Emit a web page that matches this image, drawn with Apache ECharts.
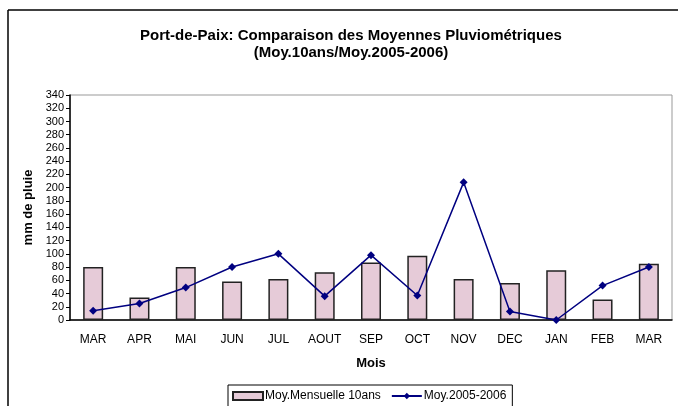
<!DOCTYPE html>
<html>
<head>
<meta charset="utf-8">
<script src="https://cdn.jsdelivr.net/npm/echarts@6/dist/echarts.min.js"></script>
<style>
  html, body { margin: 0; padding: 0; background: #fff; }
  #chart { width: 678px; height: 406px; }
</style>
</head>
<body>
<div id="chart"></div>
<script>
// mois (mars 2005 -> mars 2006)
var months = ['MAR', 'APR', 'MAI', 'JUN', 'JUL', 'AOUT', 'SEP', 'OCT', 'NOV', 'DEC', 'JAN', 'FEB', 'MAR'];
// moyenne mensuelle sur 10 ans
var moy10ans = [80, 34, 80, 58, 62, 72, 87, 97, 62, 56, 75, 31, 85];
// moyenne 2005-2006
var moy2005 = [14, 25, 49, 80, 100, 36, 98, 37, 208, 13, 0, 52, 80];

var font = "'Liberation Sans', Arial, sans-serif";

var chart = echarts.init(document.getElementById('chart'));

var option = {
  animation: false,
  textStyle: { fontFamily: font },
  title: {
    text: 'Port-de-Paix: Comparaison des Moyennes Pluviométriques\n(Moy.10ans/Moy.2005-2006)',
    left: 346,
    textAlign: 'center',
    top: 22,
    textStyle: { fontFamily: font, fontSize: 15, fontWeight: 'bold', color: '#000', lineHeight: 17 }
  },
  legend: {
    left: 228,
    top: 385,
    itemGap: 10,
    itemWidth: 30,
    itemHeight: 8,
    padding: [5, 6, 5, 4],
    borderColor: '#000',
    borderWidth: 1,
    borderRadius: 0,
    textStyle: { fontFamily: font, fontSize: 12, color: '#000', padding: [0, 0, 0, -3] },
    data: [
      { name: 'Moy.Mensuelle 10ans', icon: 'rect' },
      { name: 'Moy.2005-2006' }
    ]
  },
  grid: {
    left: 70,
    right: 6,
    top: 95,
    bottom: 86,
    show: true,
    borderColor: '#999',
    borderWidth: 1
  },
  xAxis: {
    type: 'category',
    data: months,
    name: 'Mois',
    nameLocation: 'middle',
    nameGap: 37,
    nameTextStyle: { fontFamily: font, fontSize: 13, fontWeight: 'bold', color: '#000' },
    axisLine: { lineStyle: { color: '#000', width: 1.5 } },
    axisTick: { length: 5, lineStyle: { color: '#000' } },
    axisLabel: { fontSize: 12, color: '#000', margin: 14 }
  },
  yAxis: {
    type: 'value',
    min: 0,
    max: 340,
    interval: 20,
    name: 'mm de pluie',
    nameLocation: 'middle',
    nameGap: 35,
    nameTextStyle: { fontFamily: font, fontSize: 13, fontWeight: 'bold', color: '#000' },
    axisLine: { show: true, lineStyle: { color: '#000', width: 1.5 } },
    axisTick: { show: true, length: 4, lineStyle: { color: '#000' } },
    axisLabel: { fontSize: 11, color: '#000', margin: 6 },
    splitLine: { show: false }
  },
  series: [
    {
      name: 'Moy.Mensuelle 10ans',
      type: 'bar',
      data: moy10ans,
      barWidth: 20,
      itemStyle: { color: '#e6cbd8', borderColor: '#222', borderWidth: 1.5 }
    },
    {
      name: 'Moy.2005-2006',
      type: 'line',
      data: moy2005,
      symbol: 'diamond',
      symbolSize: 8,
      lineStyle: { color: '#000080', width: 1.5 },
      itemStyle: { color: '#000080' }
    }
  ],
  graphic: [
    { type: 'line', shape: { x1: 8, y1: 10, x2: 678, y2: 10 }, style: { stroke: '#000', lineWidth: 1.5 } },
    { type: 'line', shape: { x1: 8, y1: 10, x2: 8, y2: 406 }, style: { stroke: '#000', lineWidth: 1.5 } }
  ]
};

chart.setOption(option);
</script>
</body>
</html>
